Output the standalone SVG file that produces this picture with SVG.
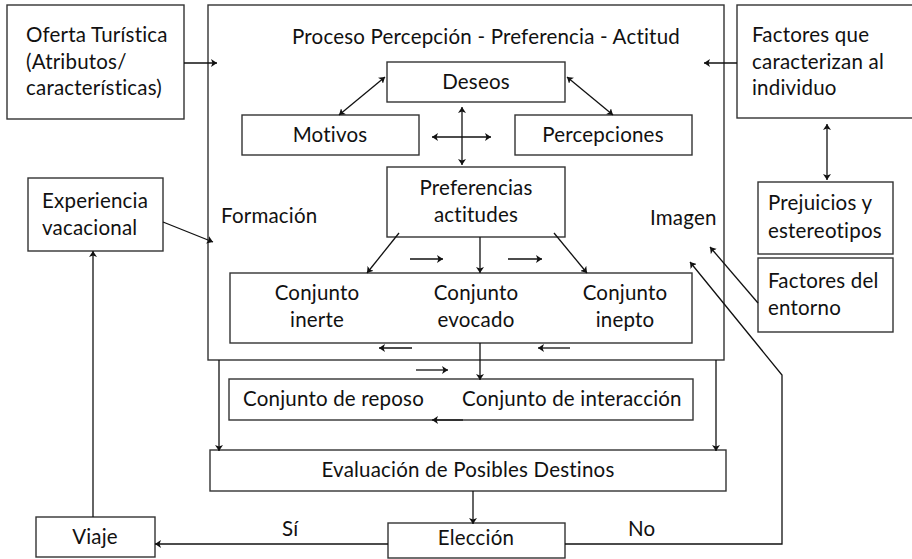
<svg xmlns="http://www.w3.org/2000/svg" width="912" height="559" viewBox="0 0 912 559">
<style>
.box{fill:#fff;stroke:#333;stroke-width:1.4}
.open{fill:none;stroke:#333;stroke-width:1.4}
.t{font-family:Lato,"Open Sans","Liberation Sans",sans-serif;font-size:20.5px;letter-spacing:0.2px;fill:#111}
.c{text-anchor:middle}
.ln{fill:none;stroke:#111;stroke-width:1.3}
</style>
<defs>
<marker id="ah" viewBox="0 0 6 8" refX="6" refY="4" markerWidth="6" markerHeight="8" markerUnits="userSpaceOnUse" orient="auto-start-reverse">
<path d="M0,0 L6,4 L0,8 L1.5,4 z" fill="#111"/>
</marker>
</defs>
<rect x="0" y="0" width="912" height="559" fill="#fff"/>

<g id="proceso">
<rect class="open" x="208" y="5" width="516" height="355"/>
<text class="t c" x="486" y="44">Proceso Percepción - Preferencia - Actitud</text>
<text class="t" x="221" y="223">Formación</text>
<text class="t" x="650" y="225">Imagen</text>
</g>
<g id="oferta">
<rect class="box" x="7" y="5" width="177" height="114"/>
<text class="t" x="26" y="42">Oferta Turística</text>
<text class="t" x="26" y="69">(Atributos/</text>
<text class="t" x="26" y="95">características)</text>
</g>
<g id="factores">
<rect class="box" x="737" y="5" width="180" height="113"/>
<text class="t" x="752" y="42">Factores que</text>
<text class="t" x="752" y="69">caracterizan al</text>
<text class="t" x="752" y="95">individuo</text>
</g>
<g id="deseos">
<rect class="box" x="387" y="62" width="178" height="40"/>
<text class="t c" x="476" y="89">Deseos</text>
</g>
<g id="motivos">
<rect class="box" x="242" y="115" width="177" height="40"/>
<text class="t c" x="330" y="142">Motivos</text>
</g>
<g id="percepciones">
<rect class="box" x="515" y="115" width="177" height="40"/>
<text class="t c" x="603" y="142">Percepciones</text>
</g>
<g id="preferencias">
<rect class="box" x="387" y="167" width="178" height="70"/>
<text class="t c" x="476" y="195">Preferencias</text>
<text class="t c" x="476" y="222">actitudes</text>
</g>
<g id="conjuntos">
<rect class="box" x="230" y="273" width="462" height="70"/>
<text class="t c" x="317" y="300">Conjunto</text>
<text class="t c" x="317" y="327">inerte</text>
<text class="t c" x="476" y="300">Conjunto</text>
<text class="t c" x="476" y="327">evocado</text>
<text class="t c" x="625" y="300">Conjunto</text>
<text class="t c" x="625" y="327">inepto</text>
</g>
<g id="reposo">
<rect class="box" x="229" y="379" width="464" height="41"/>
<text class="t" x="243" y="406">Conjunto de reposo</text>
<text class="t" x="462" y="406">Conjunto de interacción</text>
</g>
<g id="evaluacion">
<rect class="box" x="210" y="450" width="516" height="41"/>
<text class="t c" x="468" y="477">Evaluación de Posibles Destinos</text>
</g>
<g id="eleccion">
<rect class="box" x="388" y="523" width="177" height="35"/>
<text class="t c" x="476" y="545">Elección</text>
</g>
<g id="viaje">
<rect class="box" x="36" y="517" width="119" height="40"/>
<text class="t c" x="95" y="544">Viaje</text>
</g>
<g id="experiencia">
<rect class="box" x="28" y="178" width="135" height="73"/>
<text class="t" x="42" y="208">Experiencia</text>
<text class="t" x="42" y="235">vacacional</text>
</g>
<g id="prejuicios">
<rect class="box" x="758" y="182" width="135" height="72"/>
<text class="t" x="768" y="210">Prejuicios y</text>
<text class="t" x="768" y="238">estereotipos</text>
</g>
<g id="entorno">
<rect class="box" x="758" y="258" width="135" height="74"/>
<text class="t" x="768" y="288">Factores del</text>
<text class="t" x="768" y="315">entorno</text>
</g>

<g id="connectors">
<line class="ln" x1="184" y1="63" x2="217" y2="63" marker-end="url(#ah)"/>
<line class="ln" x1="737" y1="63" x2="704" y2="63" marker-end="url(#ah)"/>
<line class="ln" x1="385" y1="77" x2="339" y2="115" marker-start="url(#ah)" marker-end="url(#ah)"/>
<line class="ln" x1="567" y1="77" x2="613" y2="115" marker-start="url(#ah)" marker-end="url(#ah)"/>
<line class="ln" x1="462" y1="107" x2="462" y2="165" marker-start="url(#ah)" marker-end="url(#ah)"/>
<line class="ln" x1="432" y1="137" x2="491" y2="137" marker-start="url(#ah)" marker-end="url(#ah)"/>
<line class="ln" x1="399" y1="233" x2="367" y2="273" marker-end="url(#ah)"/>
<line class="ln" x1="480" y1="237" x2="480" y2="273" marker-end="url(#ah)"/>
<line class="ln" x1="554" y1="233" x2="587" y2="273" marker-end="url(#ah)"/>
<line class="ln" x1="410" y1="259" x2="443" y2="259" marker-end="url(#ah)"/>
<line class="ln" x1="508" y1="259" x2="542" y2="259" marker-end="url(#ah)"/>
<line class="ln" x1="412" y1="348" x2="379" y2="348" marker-end="url(#ah)"/>
<line class="ln" x1="570" y1="348" x2="538" y2="348" marker-end="url(#ah)"/>
<line class="ln" x1="480" y1="343" x2="480" y2="380" marker-end="url(#ah)"/>
<line class="ln" x1="416" y1="370" x2="448" y2="370" marker-end="url(#ah)"/>
<line class="ln" x1="463" y1="420" x2="432" y2="420" marker-end="url(#ah)"/>
<line class="ln" x1="219" y1="360" x2="219" y2="451" marker-end="url(#ah)"/>
<line class="ln" x1="716" y1="360" x2="716" y2="451" marker-end="url(#ah)"/>
<line class="ln" x1="473" y1="491" x2="473" y2="524" marker-end="url(#ah)"/>
<line class="ln" x1="388" y1="544" x2="155" y2="544" marker-end="url(#ah)"/>
<line class="ln" x1="93" y1="517" x2="93" y2="251" marker-end="url(#ah)"/>
<line class="ln" x1="163" y1="222" x2="213" y2="242" marker-end="url(#ah)"/>
<line class="ln" x1="827" y1="124" x2="827" y2="180" marker-start="url(#ah)" marker-end="url(#ah)"/>
<line class="ln" x1="758" y1="303" x2="710" y2="247" marker-end="url(#ah)"/>
<polyline class="ln" points="565,544 782,544 782,375 690,262" marker-end="url(#ah)"/>
<text class="t" x="282" y="536">Sí</text>
<text class="t" x="628" y="536">No</text>
</g>
</svg>
